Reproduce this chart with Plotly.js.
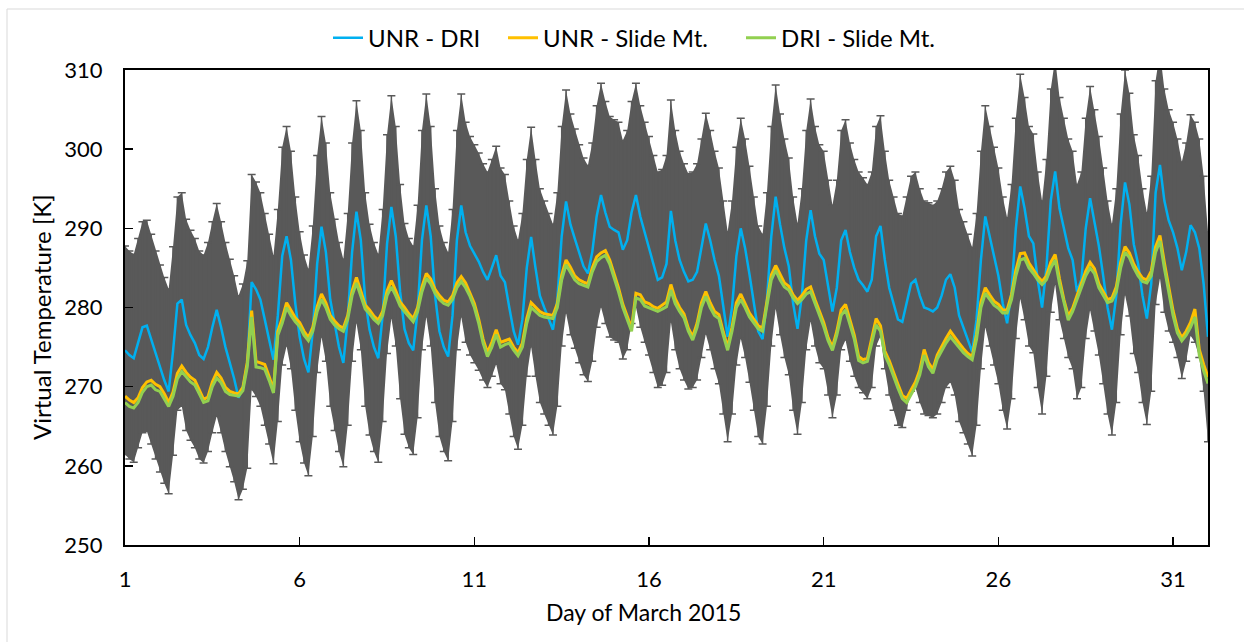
<!DOCTYPE html>
<html>
<head>
<meta charset="utf-8">
<script src="https://cdn.plot.ly/plotly-3.0.1.min.js"></script>
<style>
  html, body { margin: 0; padding: 0; background: #ffffff; }
  #chart { width: 1244px; height: 642px; }
</style>
</head>
<body>
<div id="chart"></div>
<script>
// Sampling: every 3 hours starting at day 1, 00:00
var startDay = 1;
var stepHours = 3;

var seriesNames = ["UNR - DRI", "UNR - Slide Mt.", "DRI - Slide Mt."];

// UNR - DRI virtual temperature series [K]
var unrDri = [
  274.6, 274.0, 273.6, 275.5, 277.5, 277.7, 276.0, 274.0,
  272.3, 270.8, 269.4, 274.5, 280.5, 281.0, 277.8, 276.5,
  275.5, 274.0, 273.5, 275.0, 277.5, 279.7, 277.5, 275.0,
  273.0, 271.0, 268.6, 270.0, 272.8, 283.2, 282.3, 281.0,
  278.5, 276.0, 273.4, 279.0, 286.5, 289.0, 286.0, 280.5,
  276.3, 273.5, 271.8, 277.0, 285.5, 290.2, 287.0, 281.0,
  277.8, 275.0, 273.0, 278.5, 287.0, 292.1, 288.5, 281.0,
  277.2, 275.0, 273.6, 279.0, 288.0, 292.7, 289.0, 282.0,
  277.3, 275.5, 274.6, 279.5, 288.5, 292.9, 289.0, 281.5,
  277.0, 275.0, 273.8, 279.0, 288.5, 292.9, 289.5, 287.8,
  286.8, 285.8, 284.5, 283.5, 285.0, 286.6, 284.0, 283.2,
  280.0, 277.0, 275.3, 278.5, 285.0, 288.9, 285.0, 281.5,
  280.0, 278.5, 277.2, 281.0, 289.0, 293.4, 290.5, 288.7,
  286.8, 285.2, 284.3, 287.0, 291.5, 294.2, 292.0, 290.2,
  289.8, 289.5, 287.3, 288.5, 292.0, 294.2, 291.5, 289.5,
  287.8, 285.5, 283.5, 283.8, 285.5, 292.2, 288.5, 286.0,
  284.5, 283.3, 283.5, 284.5, 287.5, 290.6, 288.5, 286.0,
  284.0, 280.0, 276.3, 280.0, 286.5, 290.0, 287.5, 284.2,
  280.5, 277.0, 276.0, 281.0, 289.0, 294.0, 290.5, 287.5,
  285.2, 280.5, 277.3, 281.5, 288.5, 292.3, 289.0, 286.8,
  286.0, 282.5, 279.5, 282.5, 288.5, 289.8, 287.0, 285.0,
  283.5, 282.8, 282.0, 283.5, 289.0, 290.3, 286.0, 282.5,
  280.5, 278.5, 278.2, 280.5, 283.0, 283.5, 281.5, 280.0,
  279.8, 279.5, 280.0, 281.5, 283.5, 284.2, 282.5, 279.0,
  277.5, 276.0, 274.4, 278.5, 286.0, 291.5, 289.0, 286.5,
  284.0, 280.5, 278.0, 282.0, 290.0, 295.3, 292.5, 289.0,
  288.1, 283.5, 280.0, 285.0, 293.5, 297.2, 292.5, 290.0,
  287.5, 286.0, 282.0, 283.5, 290.0, 293.8, 291.0, 287.8,
  284.0, 280.0, 277.2, 281.5, 290.5, 295.8, 293.0, 288.0,
  285.5, 281.5, 278.6, 283.0, 294.5, 298.0, 293.5, 291.0,
  289.5, 287.5, 284.7, 287.0, 290.4, 289.5, 287.5, 283.0,
  276.3
];

// UNR - Slide Mt. series [K]
var unrSlide = [
  268.8, 268.3, 268.0, 268.6, 269.9, 270.6, 270.8, 270.3,
  270.0, 269.1, 268.0, 269.3, 271.7, 272.6, 271.8, 271.2,
  270.8, 269.5, 268.4, 268.7, 270.6, 271.8, 271.1, 269.9,
  269.4, 269.2, 269.1, 269.9, 273.1, 279.6, 273.2, 273.0,
  272.8, 271.3, 269.6, 277.0, 278.6, 280.6, 279.6, 278.7,
  278.1, 277.0, 276.2, 277.5, 280.1, 281.7, 280.6, 279.0,
  278.3, 277.7, 277.4, 279.0, 282.1, 283.8, 282.1, 280.3,
  279.7, 278.9, 278.4, 279.5, 282.1, 283.4, 282.1, 280.7,
  280.0, 279.2, 278.6, 280.0, 282.6, 284.3, 283.6, 282.3,
  281.5, 280.9, 280.7, 281.5, 283.1, 283.9, 283.1, 281.9,
  280.5, 278.5, 276.0, 274.3, 275.6, 277.2, 275.6, 275.8,
  276.0, 275.0, 274.3, 275.5, 278.6, 280.6, 280.0, 279.5,
  279.2, 279.1, 279.0, 280.5, 284.1, 286.0, 285.1, 284.0,
  283.5, 283.2, 283.0, 285.0, 286.4, 286.9, 287.2, 286.0,
  284.3, 282.5, 280.4, 279.0, 277.4, 281.8, 281.6, 280.7,
  280.5, 280.1, 279.9, 280.3, 280.7, 282.9, 281.1, 280.0,
  279.2, 277.4, 276.3, 278.0, 280.6, 282.0, 280.6, 279.5,
  279.1, 276.9, 275.0, 277.5, 280.6, 281.7, 280.6, 279.3,
  278.5, 277.7, 277.4, 280.5, 284.1, 285.3, 284.1, 283.1,
  282.7, 281.6, 280.9, 281.5, 282.3, 282.6, 281.0, 279.5,
  278.1, 276.2, 275.0, 277.0, 279.7, 280.4, 278.6, 276.5,
  273.8, 273.4, 273.6, 276.1, 278.6, 277.7, 274.5, 273.3,
  271.7, 270.3, 268.9, 268.5, 269.6, 270.6, 272.1, 274.7,
  273.0, 272.2, 274.0, 275.1, 276.1, 277.0, 276.2, 275.5,
  274.8, 274.2, 273.8, 276.6, 280.7, 282.5, 281.6, 280.8,
  280.4, 279.7, 279.7, 281.6, 284.7, 286.8, 286.9, 285.6,
  284.8, 283.9, 283.3, 284.0, 285.7, 286.7, 283.6, 281.0,
  278.9, 279.9, 281.5, 283.0, 284.6, 285.7, 284.9, 283.0,
  282.0, 281.0, 281.2, 282.6, 285.7, 287.7, 286.9, 285.5,
  284.5, 283.7, 283.5, 284.6, 287.7, 289.1, 285.7, 282.6,
  279.6, 277.3, 276.2, 277.0, 278.1, 279.8, 274.7, 272.8,
  271.2
];

// DRI - Slide Mt. series [K]
var driSlide = [
  268.0, 267.5, 267.3, 268.0, 269.3, 270.0, 270.2, 269.6,
  269.4, 268.5, 267.5, 268.8, 271.0, 271.9, 271.2, 270.6,
  270.2, 269.0, 268.0, 268.2, 270.0, 271.1, 270.5, 269.4,
  269.0, 268.9, 268.8, 269.5, 272.5, 278.8, 272.5, 272.4,
  272.2, 270.8, 269.2, 276.5, 278.0, 280.0, 279.0, 278.2,
  277.6, 276.5, 275.8, 277.0, 279.5, 281.0, 280.0, 278.5,
  277.8, 277.3, 277.0, 278.5, 281.5, 283.1, 281.5, 279.8,
  279.2, 278.5, 278.0, 279.0, 281.5, 282.6, 281.5, 280.2,
  279.5, 278.8, 278.2, 279.5, 282.0, 283.7, 283.0, 281.8,
  281.0, 280.5, 280.3, 281.0, 282.5, 283.3, 282.5, 281.4,
  280.0, 278.0, 275.5, 273.8, 275.0, 276.6, 275.0, 275.3,
  275.5, 274.6, 273.9, 275.0, 278.0, 280.0, 279.5, 279.0,
  278.8, 278.7, 278.6, 280.0, 283.5, 285.4, 284.5, 283.5,
  283.0, 282.8, 282.6, 284.5, 285.8, 286.3, 286.6, 285.5,
  283.8, 282.0, 280.0, 278.6, 277.0, 281.2, 281.0, 280.2,
  280.0, 279.7, 279.5, 279.8, 280.1, 282.2, 280.5, 279.5,
  278.7, 277.0, 275.9, 277.5, 280.0, 281.4, 280.0, 279.0,
  278.6, 276.5, 274.6, 277.0, 280.0, 281.0, 280.0, 278.8,
  278.0, 277.3, 277.0, 280.0, 283.5, 284.7, 283.5, 282.6,
  282.2, 281.2, 280.5, 281.0, 281.7, 282.0, 280.5, 279.0,
  277.6, 275.8, 274.6, 276.5, 279.0, 279.7, 278.0, 276.0,
  273.3, 273.0, 273.2, 275.5, 277.8, 277.0, 274.0, 272.8,
  271.2, 269.8, 268.5, 268.0, 269.0, 270.0, 271.5, 274.0,
  272.5, 271.7, 273.5, 274.5, 275.5, 276.3, 275.6, 275.0,
  274.3, 273.8, 273.4, 276.0, 280.0, 281.8, 281.0, 280.3,
  279.9, 279.3, 279.3, 281.0, 284.0, 286.0, 286.2, 285.0,
  284.3, 283.5, 282.9, 283.5, 285.0, 286.0, 283.0, 280.5,
  278.4, 279.5, 281.0, 282.4, 284.0, 285.0, 284.3, 282.5,
  281.5, 280.6, 280.8, 282.0, 285.0, 287.0, 286.3, 285.0,
  284.0, 283.3, 283.1, 284.0, 287.0, 288.4, 285.0, 282.0,
  279.0, 276.8, 275.8, 276.5, 277.5, 278.8, 274.0, 272.0,
  270.4
];

// error of the UNR - DRI series, percent of value
var errPercent = 4.8;

var xTickVals = [1, 6, 11, 16, 21, 26, 31];
var xTickText = ["1", "6", "11", "16", "21", "26", "31"];
var yTickVals = [250, 260, 270, 280, 290, 300, 310];
var xTitle = "Day of March 2015";
var yTitle = "Virtual Temperature [K]";

// time axis (day of month) from the sampling step
var days = unrDri.map(function (_, i) { return startDay + i * stepHours / 24; });
// error band limits of UNR - DRI (same as its error bars)
var errLow = unrDri.map(function (v) { return v * (1 - errPercent / 100); });
var errHigh = unrDri.map(function (v) { return v * (1 + errPercent / 100); });

var FONT = "Lato, 'Open Sans', sans-serif";
var GRAY = "#595959";

var traces = [
  { type: "scatter", mode: "lines", x: days, y: errLow, showlegend: false, hoverinfo: "skip",
    line: { color: GRAY, width: 0 } },
  { type: "scatter", mode: "lines", x: days, y: errHigh, showlegend: false, hoverinfo: "skip",
    fill: "tonexty", fillcolor: GRAY, line: { color: GRAY, width: 0 } },
  {
    type: "scatter", mode: "lines", name: seriesNames[0], legend: "legend",
    x: days, y: unrDri,
    line: { color: "#00B0F0", width: 2.5 },
    error_y: { type: "percent", value: errPercent, color: GRAY, thickness: 1.5, width: 4, visible: true }
  },
  {
    type: "scatter", mode: "lines", name: seriesNames[1], legend: "legend2",
    x: days, y: unrSlide,
    line: { color: "#FFC000", width: 3 }
  },
  {
    type: "scatter", mode: "lines", name: seriesNames[2], legend: "legend3",
    x: days, y: driSlide,
    line: { color: "#92D050", width: 3 }
  }
];

function legendAt(px) {
  return {
    orientation: "h", x: (px - 125) / 1083, xanchor: "left", y: 1.067, yanchor: "middle",
    font: { family: FONT, size: 24, color: "#000000" },
    bgcolor: "rgba(0,0,0,0)", borderwidth: 0, itemwidth: 30
  };
}

var layout = {
  width: 1244, height: 642,
  margin: { l: 125, r: 36, t: 70, b: 97, pad: 0 },
  paper_bgcolor: "#ffffff", plot_bgcolor: "#ffffff",
  font: { family: FONT, size: 22, color: "#000000" },
  showlegend: true,
  legend: legendAt(328),
  legend2: legendAt(503),
  legend3: legendAt(741),
  xaxis: {
    range: [1, 32], tickmode: "array", tickvals: xTickVals, ticktext: xTickText,
    showgrid: false, zeroline: false, showline: true, linecolor: "#000000", linewidth: 2,
    mirror: true, ticks: "inside", ticklen: 8, tickwidth: 1.5, tickcolor: "#000000",
    ticklabelstandoff: 14,
    tickfont: { family: FONT, size: 22, color: "#000000" }
  },
  yaxis: {
    range: [250, 310], tickmode: "array", tickvals: yTickVals,
    showgrid: false, zeroline: false, showline: true, linecolor: "#000000", linewidth: 2,
    mirror: true, ticks: "inside", ticklen: 8, tickwidth: 1.5, tickcolor: "#000000",
    ticklabelstandoff: 16,
    tickfont: { family: FONT, size: 22, color: "#000000" }
  },
  annotations: [
    { text: xTitle, xref: "paper", yref: "paper", x: (643 - 125) / 1083, y: (545 - 612) / 475,
      xanchor: "center", yanchor: "middle", showarrow: false,
      font: { family: FONT, size: 23, color: "#000000" } },
    { text: yTitle, xref: "paper", yref: "paper", x: (41 - 125) / 1083, y: (545 - 318) / 475,
      xanchor: "center", yanchor: "middle", showarrow: false, textangle: -90,
      font: { family: FONT, size: 24, color: "#000000" } }
  ],
  shapes: [
    {
      type: "rect", xref: "paper", yref: "paper",
      x0: (7 - 125) / 1083, x1: (1252 - 125) / 1083,
      y0: 1 + (70 - 9) / 475, y1: (545 - 650) / 475,
      line: { color: "#D9D9D9", width: 1 }, fillcolor: "rgba(0,0,0,0)", layer: "below"
    }
  ]
};

Plotly.newPlot("chart", traces, layout, { displayModeBar: false, staticPlot: true });
</script>
</body>
</html>
